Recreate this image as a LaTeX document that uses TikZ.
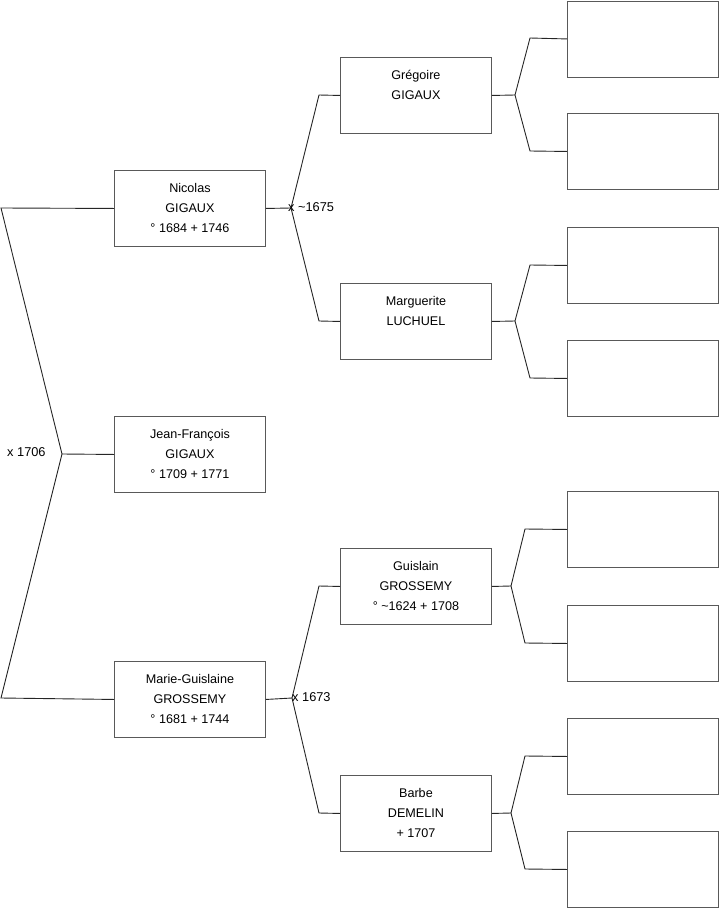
\documentclass[tikz,border=0pt]{standalone}
\usepackage{fontspec}
\setmainfont{Liberation Sans}
\newcommand{\ppl}[3]{\raisebox{1.5pt}{\begin{tabular}{@{}c@{}}#1\\#2\\\mbox{}#3\end{tabular}}}
\begin{document}
\begin{tikzpicture}[x=1pt,y=-1pt,
  person/.style={draw=black!65,line width=0.9pt,minimum width=151pt,minimum height=76pt,inner sep=0pt,align=center,font=\fontsize{12.6}{20}\selectfont,anchor=north west},
  conn/.style={draw=black!85,line width=0.9pt},
  lbl/.style={font=\fontsize{12.8}{14}\selectfont,inner sep=0pt}]
\useasboundingbox (0,0) rectangle (719,908);
% generation 1
\node[person] (jf) at (114,416) {\ppl{Jean-François}{GIGAUX}{° 1709 + 1771}};
% generation 2
\node[person] (nic) at (114,170) {\ppl{Nicolas}{GIGAUX}{° 1684 + 1746}};
\node[person] (mg) at (114,661) {\ppl{Marie-Guislaine}{GROSSEMY}{° 1681 + 1744}};
% generation 3
\node[person] (gre) at (340,57) {\ppl{Grégoire}{GIGAUX}{}};
\node[person] (mar) at (340,283) {\ppl{Marguerite}{LUCHUEL}{}};
\node[person] (gui) at (340,548) {\ppl{Guislain}{GROSSEMY}{° \textasciitilde1624 + 1708}};
\node[person] (bar) at (340,775) {\ppl{Barbe}{DEMELIN}{+ 1707}};
% generation 4 (empty)
\node[person] (e1) at (567,0.5) {};
\node[person] (e2) at (567,113) {};
\node[person] (e3) at (567,227) {};
\node[person] (e4) at (567,340) {};
\node[person] (e5) at (567,491) {};
\node[person] (e6) at (567,605) {};
\node[person] (e7) at (567,718) {};
\node[person] (e8) at (567,831) {};
% fork coordinates
\coordinate (j0) at (62,454);
\coordinate (j0a) at (1,208);
\coordinate (j0b) at (1,698);
\coordinate (j1) at (291,208);
\coordinate (j1a) at (319,95);
\coordinate (j1b) at (319,321);
\coordinate (j2) at (292,698);
\coordinate (j2a) at (319,586);
\coordinate (j2b) at (319,813);
\coordinate (k1) at (515,95);
\coordinate (k1a) at (530,38);
\coordinate (k1b) at (530,151);
\coordinate (k2) at (515,321);
\coordinate (k2a) at (530,265);
\coordinate (k2b) at (530,378);
\coordinate (k3) at (511,586);
\coordinate (k3a) at (525,529);
\coordinate (k3b) at (525,643);
\coordinate (k4) at (511,813);
\coordinate (k4a) at (525,756);
\coordinate (k4b) at (525,869);
% connectors
\draw[conn] (jf.west) -- (j0) -- (j0a) -- (nic.west);
\draw[conn] (j0) -- (j0b) -- (mg.west);
\draw[conn] (nic.east) -- (j1) -- (j1a) -- (gre.west);
\draw[conn] (j1) -- (j1b) -- (mar.west);
\draw[conn] (mg.east) -- (j2) -- (j2a) -- (gui.west);
\draw[conn] (j2) -- (j2b) -- (bar.west);
\draw[conn] (gre.east) -- (k1) -- (k1a) -- (e1.west);
\draw[conn] (k1) -- (k1b) -- (e2.west);
\draw[conn] (mar.east) -- (k2) -- (k2a) -- (e3.west);
\draw[conn] (k2) -- (k2b) -- (e4.west);
\draw[conn] (gui.east) -- (k3) -- (k3a) -- (e5.west);
\draw[conn] (k3) -- (k3b) -- (e6.west);
\draw[conn] (bar.east) -- (k4) -- (k4a) -- (e7.west);
\draw[conn] (k4) -- (k4b) -- (e8.west);
% marriage labels
\node[lbl,anchor=west] (m0) at (7,452) {x 1706};
\node[lbl,anchor=west] (m1) at (288,207) {x \textasciitilde1675};
\node[lbl,anchor=west] (m2) at (292,697) {x 1673};
\end{tikzpicture}
\end{document}
